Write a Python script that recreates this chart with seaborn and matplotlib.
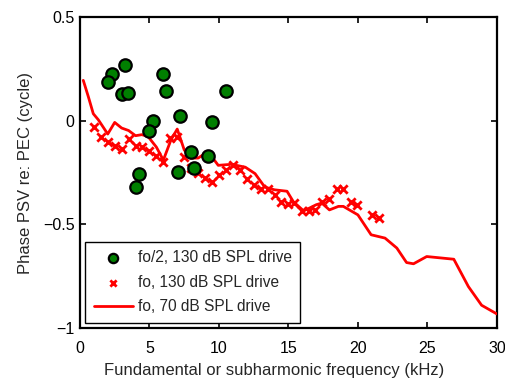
import matplotlib
matplotlib.use("Agg")
import matplotlib.pyplot as plt
import seaborn as sns

# fo/2, 130 dB SPL drive (subharmonic)
sub_freq = [3.24, 2.28, 1.99, 3.0, 3.48, 5.99, 6.19, 10.48, 7.19, 9.47,
            5.27, 4.96, 7.99, 9.23, 8.22, 7.03, 4.24, 4.0]
sub_phase = [0.27, 0.225, 0.187, 0.13, 0.134, 0.226, 0.142, 0.146, 0.024, -0.008,
             -0.003, -0.047, -0.153, -0.172, -0.228, -0.248, -0.256, -0.32]

# fo, 130 dB SPL drive
hi_freq = [1.0, 1.5, 2.0, 2.5, 3.0, 3.5, 4.0, 4.5, 5.0, 5.5, 6.0, 6.5, 7.0, 7.5,
           8.0, 8.5, 9.0, 9.5, 10.0, 10.5, 11.0, 11.5, 12.0, 12.5, 13.0, 13.5,
           14.0, 14.5, 15.0, 15.4, 16.0, 16.5, 16.9, 17.4, 17.9, 18.5, 18.9,
           19.5, 19.9, 21.0, 21.5]
hi_phase = [-0.03, -0.076, -0.10, -0.12, -0.137, -0.087, -0.12, -0.127, -0.148,
            -0.172, -0.20, -0.084, -0.076, -0.175, -0.228, -0.252, -0.277, -0.293,
            -0.26, -0.237, -0.213, -0.237, -0.28, -0.31, -0.33, -0.33, -0.357,
            -0.39, -0.40, -0.397, -0.437, -0.437, -0.43, -0.39, -0.375, -0.33,
            -0.33, -0.39, -0.405, -0.454, -0.467]

# fo, 70 dB SPL drive
lo_freq = [0.24, 0.6, 0.96, 1.32, 2.0, 2.5, 3.0, 3.5, 4.0, 4.45, 4.9, 5.5, 6.0,
           6.55, 7.0, 7.5, 7.95, 8.5, 9.05, 9.45, 9.95, 10.9, 11.9, 12.6, 13.3,
           14.0, 14.9, 15.35, 16.1, 17.0, 17.4, 17.95, 18.6, 18.95, 20.0, 20.95,
           21.95, 22.8, 23.5, 24.0, 24.95, 26.9, 27.95, 28.9, 30.0]
lo_phase = [0.195, 0.117, 0.034, 0.005, -0.064, -0.008, -0.035, -0.047, -0.072,
            -0.067, -0.076, -0.127, -0.19, -0.092, -0.04, -0.14, -0.18, -0.18,
            -0.156, -0.17, -0.215, -0.21, -0.224, -0.255, -0.32, -0.333, -0.34,
            -0.39, -0.435, -0.405, -0.397, -0.43, -0.413, -0.413, -0.454, -0.55,
            -0.566, -0.614, -0.684, -0.69, -0.655, -0.668, -0.80, -0.89, -0.932]

sns.set_style("ticks")
plt.rcParams['font.family'] = ['Liberation Sans', 'DejaVu Sans']
plt.rcParams['font.size'] = 12

fig = plt.figure(figsize=(5.06, 3.81), dpi=100)
ax = fig.add_axes([0.158, 0.139, 0.824, 0.816])

sns.scatterplot(x=sub_freq, y=sub_phase, ax=ax, marker='o', s=80,
                color='#007f00', edgecolor='black', linewidth=1.6,
                label='fo/2, 130 dB SPL drive', zorder=4)
sns.scatterplot(x=hi_freq, y=hi_phase, ax=ax, marker='x', s=36,
                color='red', linewidth=2, label='fo, 130 dB SPL drive', zorder=2)
sns.lineplot(x=lo_freq, y=lo_phase, ax=ax, color='red', linewidth=2,
             label='fo, 70 dB SPL drive', zorder=3)

ax.set_xlim(0, 30)
ax.set_ylim(-1, 0.5)
ax.set_xticks([0, 5, 10, 15, 20, 25, 30])
ax.set_yticks([-1, -0.5, 0, 0.5])
ax.set_yticklabels(['\u22121', '\u22120.5', '0', '0.5'])
ax.tick_params(direction='in', top=True, right=True, length=4, width=1.2,
               labelsize=11.5, colors='black')
ax.tick_params(axis='x', pad=9)
ax.tick_params(axis='y', pad=4)
for sp in ax.spines.values():
    sp.set_linewidth(1.6)
    sp.set_color('black')

ax.set_xlabel('Fundamental or subharmonic frequency (kHz)', fontsize=12)
ax.set_ylabel('Phase PSV re: PEC (cycle)', fontsize=12)
ax.xaxis.set_label_coords(0.465, -0.113)
ax.yaxis.set_label_coords(-0.113, 0.5)

leg = ax.legend(loc='lower left', fontsize=11.2, frameon=True, fancybox=False,
                borderaxespad=0.35, borderpad=0.55, labelspacing=0.6,
                handlelength=2.5, handletextpad=0.3, markerscale=0.75)
leg.get_frame().set_edgecolor('black')
leg.get_frame().set_linewidth(1.0)
leg.get_frame().set_alpha(1)

fig.savefig('out.png', dpi=100)
